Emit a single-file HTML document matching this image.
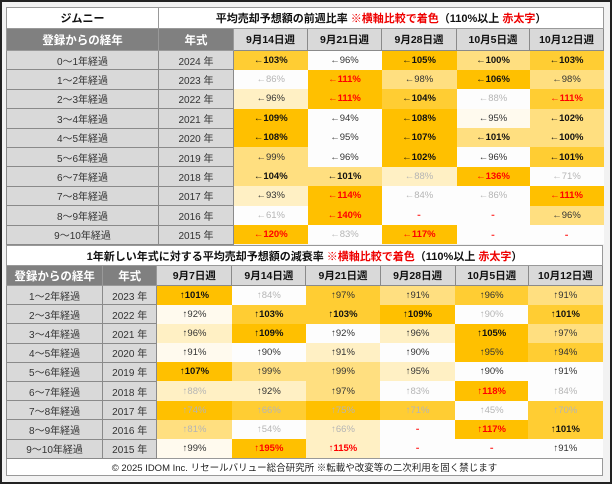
<!DOCTYPE html>
<html><head><meta charset="utf-8"><style>
body{margin:0;width:612px;height:484px;background:#fff;font-family:"Liberation Sans","Noto Sans CJK JP",sans-serif;overflow:hidden}
#outer{position:absolute;left:0;top:0;width:608px;height:480px;border:2px solid #222;background:#f2f2f2}
table{position:absolute;border-collapse:collapse;table-layout:fixed;left:6px;width:597px}
td{padding:0;text-align:center;font-size:9.5px;color:#333;white-space:nowrap;overflow:hidden}
.t td{background:#fff;font-weight:bold;font-size:11px;color:#111;border:1px solid #999}
.h td.g1{background:#808080;color:#fff;font-weight:bold;font-size:11.5px;border:1px solid #999}
.h td.w{background:#d9d9d9;color:#111;font-weight:bold;font-size:10.5px;border:1px solid #8a8a8a}
td.l{background:#d9d9d9;border:1.5px solid #8a8a8a;font-size:10px;color:#333}
.red{color:#e00}
.A{background:#ffc000}.B{background:#ffcd33}.C{background:#ffdf80}.D{background:#fff0c4}.E{background:#fffaee}.W{background:#fdfdfd}
.k{font-weight:bold;color:#111}.g{color:#b5b5b5}.r{font-weight:bold;color:#f00}
td.x{color:#f44;font-weight:bold;font-size:11px}
#t1 tr.d td{height:18.4px}
#t2 tr.d td{height:18.2px}
.f td{background:#fff;border:1px solid #999;font-size:9.5px;color:#222;height:16px}
</style></head><body>
<div id="outer"></div>
<table id="t1" style="top:7px">
<colgroup><col style="width:152px"><col style="width:75px"><col style="width:74px"><col style="width:74px"><col style="width:75px"><col style="width:73px"><col style="width:74px"></colgroup>
<tr class="t"><td style="height:20px">ジムニー</td><td colspan="6">平均売却予想額の前週比率 <span class="red">※横軸比較で着色</span>（110%以上 <span class="red">赤太字</span>）</td></tr>
<tr class="h"><td class="g1" style="height:21px">登録からの経年</td><td class="g1">年式</td><td class="w">9月14日週</td><td class="w">9月21日週</td><td class="w">9月28日週</td><td class="w">10月5日週</td><td class="w">10月12日週</td></tr>
<tr class="d"><td class="l">0～1年経過</td><td class="l">2024 年</td><td class="B k">←103%</td><td class="W n">←96%</td><td class="A k">←105%</td><td class="C k">←100%</td><td class="B k">←103%</td></tr>
<tr class="d"><td class="l">1～2年経過</td><td class="l">2023 年</td><td class="W g">←86%</td><td class="A r">←111%</td><td class="C">←98%</td><td class="A k">←106%</td><td class="C">←98%</td></tr>
<tr class="d"><td class="l">2～3年経過</td><td class="l">2022 年</td><td class="D">←96%</td><td class="A r">←111%</td><td class="B k">←104%</td><td class="W g">←88%</td><td class="B r">←111%</td></tr>
<tr class="d"><td class="l">3～4年経過</td><td class="l">2021 年</td><td class="A k">←109%</td><td class="W">←94%</td><td class="A k">←108%</td><td class="E">←95%</td><td class="C k">←102%</td></tr>
<tr class="d"><td class="l">4～5年経過</td><td class="l">2020 年</td><td class="A k">←108%</td><td class="W">←95%</td><td class="A k">←107%</td><td class="C k">←101%</td><td class="C k">←100%</td></tr>
<tr class="d"><td class="l">5～6年経過</td><td class="l">2019 年</td><td class="C">←99%</td><td class="W">←96%</td><td class="A k">←102%</td><td class="W">←96%</td><td class="B k">←101%</td></tr>
<tr class="d"><td class="l">6～7年経過</td><td class="l">2018 年</td><td class="C k">←104%</td><td class="C k">←101%</td><td class="D g">←88%</td><td class="A r">←136%</td><td class="W g">←71%</td></tr>
<tr class="d"><td class="l">7～8年経過</td><td class="l">2017 年</td><td class="D">←93%</td><td class="A r">←114%</td><td class="W g">←84%</td><td class="W g">←86%</td><td class="A r">←111%</td></tr>
<tr class="d"><td class="l">8～9年経過</td><td class="l">2016 年</td><td class="W g">←61%</td><td class="A r">←140%</td><td class="W x">-</td><td class="W x">-</td><td class="C">←96%</td></tr>
<tr class="d"><td class="l">9～10年経過</td><td class="l">2015 年</td><td class="A r">←120%</td><td class="W g">←83%</td><td class="A r">←117%</td><td class="W x">-</td><td class="W x">-</td></tr>
</table>
<table id="t2" style="top:245px">
<colgroup><col style="width:96px"><col style="width:54px"><col style="width:75px"><col style="width:74px"><col style="width:74px"><col style="width:75px"><col style="width:73px"><col style="width:74px"></colgroup>
<tr class="t"><td colspan="8" style="height:19px">1年新しい年式に対する平均売却予想額の減衰率 <span class="red">※横軸比較で着色</span>（110%以上 <span class="red">赤太字</span>）</td></tr>
<tr class="h"><td class="g1" style="height:19px">登録からの経年</td><td class="g1">年式</td><td class="w">9月7日週</td><td class="w">9月14日週</td><td class="w">9月21日週</td><td class="w">9月28日週</td><td class="w">10月5日週</td><td class="w">10月12日週</td></tr>
<tr class="d"><td class="l">1～2年経過</td><td class="l">2023 年</td><td class="A k">↑101%</td><td class="W g">↑84%</td><td class="B">↑97%</td><td class="C">↑91%</td><td class="B">↑96%</td><td class="C">↑91%</td></tr>
<tr class="d"><td class="l">2～3年経過</td><td class="l">2022 年</td><td class="E">↑92%</td><td class="B k">↑103%</td><td class="B k">↑103%</td><td class="A k">↑109%</td><td class="W g">↑90%</td><td class="B k">↑101%</td></tr>
<tr class="d"><td class="l">3～4年経過</td><td class="l">2021 年</td><td class="D">↑96%</td><td class="A k">↑109%</td><td class="W">↑92%</td><td class="D">↑96%</td><td class="A k">↑105%</td><td class="C">↑97%</td></tr>
<tr class="d"><td class="l">4～5年経過</td><td class="l">2020 年</td><td class="E">↑91%</td><td class="W">↑90%</td><td class="D">↑91%</td><td class="W">↑90%</td><td class="A">↑95%</td><td class="B">↑94%</td></tr>
<tr class="d"><td class="l">5～6年経過</td><td class="l">2019 年</td><td class="A k">↑107%</td><td class="C">↑99%</td><td class="C">↑99%</td><td class="D">↑95%</td><td class="W">↑90%</td><td class="W">↑91%</td></tr>
<tr class="d"><td class="l">6～7年経過</td><td class="l">2018 年</td><td class="D g">↑88%</td><td class="D">↑92%</td><td class="C">↑97%</td><td class="W g">↑83%</td><td class="A r">↑118%</td><td class="W g">↑84%</td></tr>
<tr class="d"><td class="l">7～8年経過</td><td class="l">2017 年</td><td class="A g">↑74%</td><td class="B g">↑66%</td><td class="A g">↑75%</td><td class="B g">↑71%</td><td class="W g">↑45%</td><td class="B g">↑70%</td></tr>
<tr class="d"><td class="l">8～9年経過</td><td class="l">2016 年</td><td class="C g">↑81%</td><td class="W g">↑54%</td><td class="D g">↑66%</td><td class="W x">-</td><td class="A r">↑117%</td><td class="B k">↑101%</td></tr>
<tr class="d"><td class="l">9～10年経過</td><td class="l">2015 年</td><td class="E">↑99%</td><td class="A r">↑195%</td><td class="D r">↑115%</td><td class="W x">-</td><td class="W x">-</td><td class="W">↑91%</td></tr>
<tr class="f"><td colspan="8">© 2025 IDOM Inc. リセールバリュー総合研究所 ※転載や改変等の二次利用を固く禁じます</td></tr>
</table>
</body></html>
